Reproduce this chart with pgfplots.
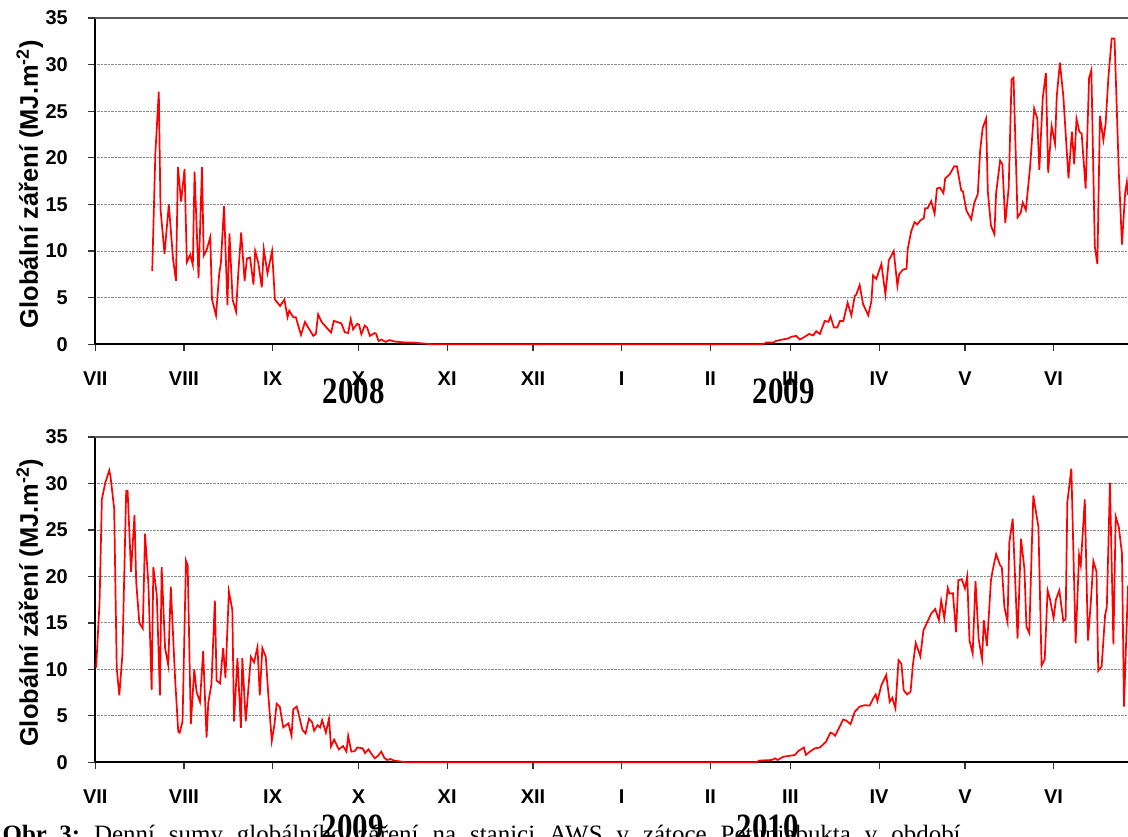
\documentclass[border=0pt]{standalone}
\usepackage{pgfplots}
\pgfplotsset{compat=1.18}
\usepackage{fontspec}
\setmainfont{Liberation Serif}
\setsansfont{Liberation Sans}
\begin{document}
\pgfplotsset{
  myaxis/.style={
    scale only axis, width=1035pt,
    xmin=0, xmax=361, ymin=0, ymax=35,
    clip=false,
    axis x line*=bottom, axis y line*=left,
    ytick={0,5,...,30},
    extra y ticks={35},
    extra y tick style={grid=major, major grid style={solid, black!65, line width=1.5pt}},
    xtick={0,31,62,92,123,153,184,215,243,274,304,335},
    xticklabels={VII,VIII,IX,X,XI,XII,I,II,III,IV,V,VI},
    ymajorgrids,
    grid style={densely dotted, black!45, line width=0.9pt},
    tick align=outside, major tick length=7pt,
    tick style={line width=1.2pt, black!80},
    axis line style={line width=1.8pt, black, -},
    /pgf/number format/assume math mode=true,
    ticklabel style={font=\sffamily\bfseries\fontsize{20}{23}\selectfont},
    xticklabel style={yshift=-17pt},
    yticklabel style={xshift=-17pt},
    ylabel={Globální záření (MJ.m\textsuperscript{-2})},
    every axis y label/.style={at={(axis description cs:-0.0635,0.49)}, rotate=90, anchor=center,
      font=\sffamily\bfseries\fontsize{25.5}{28}\selectfont},
    cycle list={{red, line width=1.7pt, mark=none}},
  }
}
\begin{tikzpicture}
\useasboundingbox (0,0) rectangle (1128pt,838pt);
% ---------- top panel ----------
\begin{axis}[myaxis, height=327pt, at={(93pt,493pt)}, anchor=south west]
\addplot[red, line width=1.7pt, mark=none] coordinates {
(19.9,7.85)(21,20.5)(22.2,27.1)(22.8,14.5)(24.2,9.7)(25.7,15.0)(27.2,9.1)(28.2,6.8)(28.9,19.0)(30,15.3)(31.2,18.8)(32,8.8)(33.2,9.6)(34.1,8.5)(34.7,18.5)(36.1,7.1)(37.3,19.0)(37.9,9.5)(39,10.2)(40.2,11.5)(40.8,4.8)(42.2,3.1)(43.3,7.5)(43.9,8.7)(45,14.8)(46.2,4.2)(46.9,11.9)(48,4.8)(49.2,3.5)(50,7.7)(51,12.0)(52.2,6.8)(53,9.2)(54.1,9.3)(55.3,6.4)(55.9,10.0)(57,8.7)(58.2,6.1)(58.9,10.2)(60.2,7.6)(61.8,10.0)(62.8,4.8)(64.6,4.1)(66.1,4.8)(67.2,2.9)(67.8,3.6)(69.2,2.9)(70.1,2.9)(71.9,1.0)(73.3,2.4)(74.8,1.6)(76.2,0.9)(77.1,1.1)(77.9,3.2)(79.1,2.4)(80.8,1.8)(82.4,1.25)(83.4,2.5)(86,2.25)(87.2,1.3)(88.4,1.2)(89.3,2.7)(90.1,1.6)(91.6,2.2)(92.2,2.1)(93,1.07)(94.2,2.0)(95,1.8)(96,0.9)(97.6,1.2)(98.2,1.1)(99,0.35)(100,0.5)(101.5,0.25)(102.8,0.45)(104.5,0.3)(106,0.25)(108,0.2)(110,0.2)(112,0.15)(114,0.1)(116,0.05)(117,0)
(150,0)(200,0)(233.6,0)(234.5,0.18)(237,0.18)(238,0.35)(240,0.5)(242,0.6)(243.4,0.8)(245,0.9)(246.3,0.5)(248,0.8)(249.5,1.1)(251,0.95)(252,1.4)(253.3,1.1)(255,2.5)(256.3,2.4)(257,3.0)(258.2,1.8)(259.4,1.8)(260.3,2.5)(261.5,2.5)(263,4.45)(264.3,3.1)(265.5,5.2)(266,5.3)(267.2,6.35)(268.4,4.3)(270.2,3.1)(271.3,4.6)(271.9,7.4)(273,7.0)(274.8,8.6)(276.2,5.35)(277.4,9.0)(279.1,10.0)(280.4,6.25)(281,7.5)(282.3,8.0)(283.6,8.1)(284,10.2)(285.2,12.1)(286.4,13.1)(287.3,12.85)(288.5,13.3)(289.6,13.5)(290.1,14.6)(291,14.6)(292.2,15.35)(293.4,14.0)(294.2,16.7)(295.3,16.8)(296.5,16.2)(297.1,17.8)(298.6,18.2)(300.3,19.1)(301.2,19.1)(302.7,16.5)(303.3,16.4)(304.5,14.35)(306.2,13.4)(307.3,15.2)(308.5,16.1)(309.3,20.7)(310.2,23.2)(311.4,24.2)(312,16.4)(313.1,12.7)(314.3,11.8)(314.9,16.2)(316.3,19.7)(317.1,19.3)(318.1,13.0)(319.3,16.8)(320.3,28.4)(321,28.6)(322.4,13.6)(323.5,14.1)(324.2,15.2)(325.3,14.4)(326.8,19.1)(328.2,25.3)(329.3,24.2)(330,18.7)(331.2,26.4)(332.3,29.1)(333.1,18.4)(334.3,23.4)(335.5,21.5)(336.1,26.6)(337.2,30.2)(338.4,26.6)(340.2,17.8)(341.4,22.8)(342.2,19.3)(343,24.2)(344,22.8)(344.8,22.6)(346.2,16.7)(347.4,28.55)(348.2,29.4)(349.4,10.5)(350.3,8.6)(351.2,24.5)(352.4,21.9)(353.2,23.7)(354.1,28.4)(355.3,32.8)(356.3,32.8)(357.8,18.4)(358.9,10.7)(360,16.2)(360.6,17.4)(361,16)
};
\end{axis}
% ---------- bottom panel ----------
\begin{axis}[myaxis, height=326pt, at={(93pt,74pt)}, anchor=south west]
\addplot[red, line width=1.7pt, mark=none] coordinates {
(0.3,10.2)(1.5,17.25)(2.3,28.3)(3.5,30.1)(4.9,31.4)(5.3,30.8)(6.6,27.3)(7.5,10.1)(8.4,7.2)(9.5,11.7)(10.8,29.2)(11.3,29.2)(12.5,20.5)(13.7,26.6)(14.3,19.4)(15.4,15.0)(16.6,14.4)(17.4,24.6)(18.6,19.0)(19.7,7.8)(20.3,21.0)(21.5,18.0)(22.6,7.2)(23.2,21.0)(24.4,12.3)(25.5,10.45)(26.4,18.9)(27.9,9.0)(29,3.3)(29.5,3.2)(30.5,4.4)(31.7,21.7)(32.3,21.2)(33.4,4.1)(34.6,10.0)(35.4,7.6)(36.6,6.5)(37.7,11.95)(38.9,2.65)(39.5,6.4)(40.6,8.4)(41.8,17.4)(42.4,8.8)(43.6,8.5)(44.7,12.3)(45.5,9.1)(46.7,18.4)(47.9,16.4)(48.5,4.4)(49.7,11.2)(50.9,3.7)(51.4,11.2)(52.6,4.4)(54.4,11.35)(55.5,10.75)(56.7,12.4)(57.5,7.2)(58.4,12.3)(59.6,11.35)(60.5,7.2)(61.7,2.3)(62.6,4.0)(63.4,6.3)(64.5,5.98)(65.7,3.76)(67.5,4.2)(68.6,2.85)(69.2,5.7)(70.4,6.0)(71,5.3)(72.4,3.5)(73.5,3.1)(74.7,4.7)(75.8,4.3)(76.5,3.4)(77.7,4.0)(78.6,3.75)(79.3,4.55)(80.6,3.2)(81.7,4.7)(82.4,1.7)(83.5,2.45)(85.1,1.4)(86.6,1.75)(87.8,1.15)(88.4,2.85)(89.5,1.15)(90.7,1.2)(91.6,1.6)(93.5,1.5)(94.3,1.0)(95.5,1.4)(96.4,0.97)(97.7,0.43)(98.8,0.7)(100,1.15)(101,0.5)(102,0.25)(103.2,0.35)(104.5,0.18)(106,0.12)(107.5,0.05)(109,0)
(150,0)(200,0)(231.2,0)(232,0.18)(236.5,0.25)(237.6,0.43)(238.5,0.25)(240.5,0.6)(242.8,0.7)(244.6,0.8)(245.7,1.2)(247.7,1.6)(248.4,0.8)(249.8,1.15)(251.5,1.5)(253.3,1.6)(255.4,2.2)(257,3.2)(257.8,3.1)(258.6,2.85)(260,3.7)(261.4,4.6)(262.5,4.5)(264,4.1)(265.5,5.45)(267.2,6.0)(269,6.15)(270.7,6.1)(272.1,6.95)(272.8,7.3)(273.4,6.6)(274.8,8.3)(276.5,9.4)(277.7,6.5)(278.6,6.95)(279.7,5.8)(280.8,11.0)(281.8,10.6)(282.6,7.76)(283.8,7.3)(285,7.6)(285.8,10.45)(286.8,12.85)(288.4,11.4)(289.5,14.2)(291,15.2)(292.2,16.0)(293.6,16.5)(294.9,15.3)(295.7,17.4)(296.8,15.5)(298,18.75)(298.6,18.15)(299.8,18.2)(300.9,14.0)(301.7,19.6)(302.9,19.7)(304,18.7)(304.8,20.0)(305.6,13.1)(306.7,11.7)(307.7,19.5)(308.8,13.3)(310,11.1)(310.6,15.3)(311.7,12.5)(313.1,19.6)(313.7,20.65)(314.9,22.4)(316.3,21.2)(316.9,21.0)(317.8,16.7)(318.9,15.1)(319.5,23.6)(320.7,26.2)(322.4,13.3)(323.6,24.05)(324.8,20.8)(325.5,14.6)(326.5,13.9)(327.9,28.7)(329.7,25.3)(330.8,10.4)(331.9,11.1)(332.9,18.5)(333.7,17.6)(335,15.5)(335.8,17.5)(337,18.5)(338.4,15.2)(339.2,15.4)(339.8,28.0)(341.2,31.6)(342.7,12.8)(343.9,22.3)(344.5,21.2)(345.9,28.3)(347,13.1)(348,17.2)(348.9,21.65)(350,20.5)(350.6,9.85)(351.8,10.35)(353,15.85)(353.6,16.7)(354.7,30.1)(355.9,12.7)(356.7,26.45)(357.8,25.3)(358.9,22.45)(359.6,6.0)(361,19)
};
\end{axis}
% ---------- year labels and caption ----------
\begin{scope}[every node/.style={font=\rmfamily\bfseries\fontsize{31}{31}\selectfont, yscale=1.2, inner sep=0pt}]
\node at (352pt,445.5pt) {2008};
\node at (783pt,445.5pt) {2009};
\node at (351pt,9pt) {2009};
\node at (767pt,9pt) {2010};
\end{scope}
\node[anchor=base west, inner sep=0pt, font=\rmfamily\fontsize{25}{25}\selectfont] at (0pt,-6pt)
  {\textbf{Obr. 3:}\hspace{14pt}Denní\hspace{14pt}sumy\hspace{14pt}globálního\hspace{14pt}záření\hspace{14pt}na\hspace{14pt}stanici\hspace{14pt}AWS\hspace{14pt}v\hspace{14pt}zátoce\hspace{14pt}Petuniabukta\hspace{14pt}v\hspace{14pt}období};
\end{tikzpicture}
\end{document}
